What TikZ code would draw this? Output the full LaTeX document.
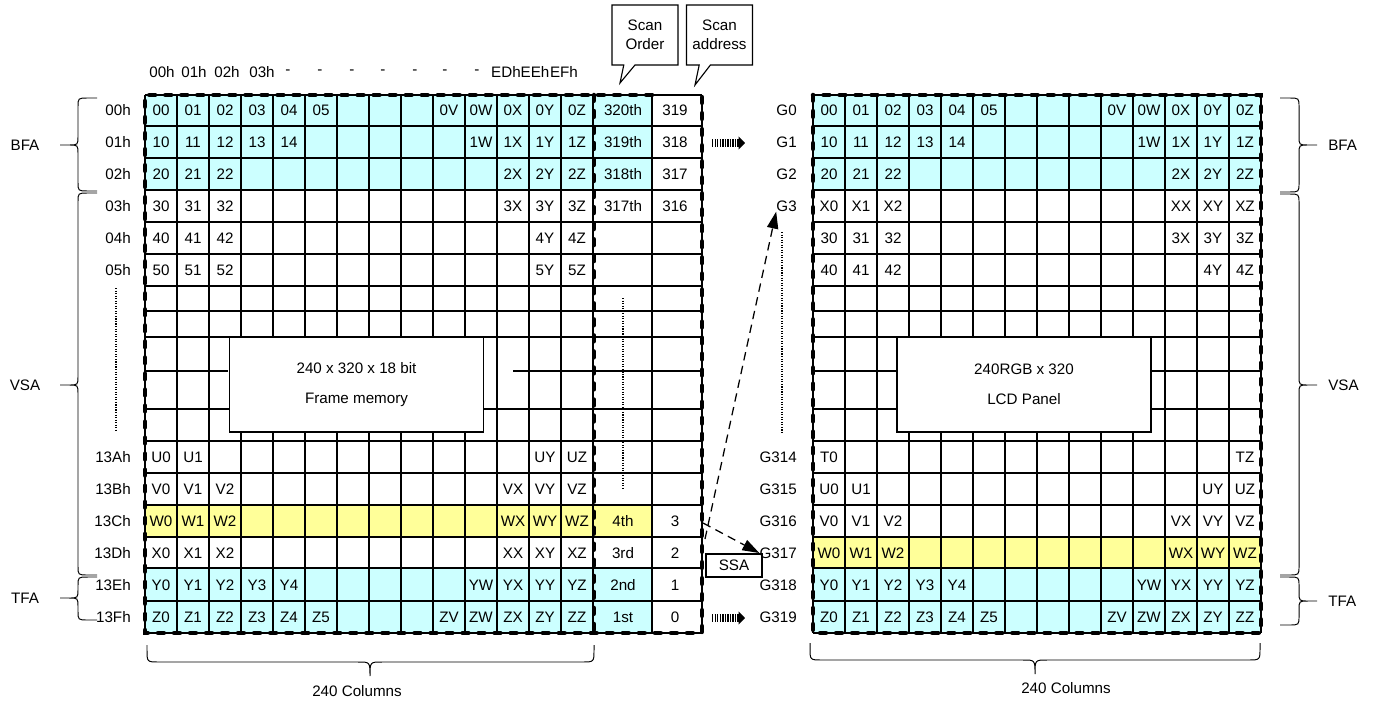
\documentclass[tikz,border=0pt]{standalone}
\usepackage{fontspec}
\setmainfont{Liberation Sans}
\usepackage{xcolor}
\definecolor{bfacyan}{RGB}{204,255,255}
\definecolor{selyellow}{RGB}{255,255,153}
\usepackage{tikz}
\usetikzlibrary{arrows.meta, shapes.callouts, positioning}

% side brace: end x, direction (-1 left, 1 right), top y, tip y, bottom y
\newcommand{\sidebrace}[5]{%
  \draw[brc] (#1,#3) -- ({#1+9*(#2)},#3) .. controls ({#1+19*(#2)},#3) .. ({#1+19*(#2)},#3+9)
    -- ({#1+19*(#2)},#4-9) .. controls ({#1+19*(#2)},#4) .. ({#1+28*(#2)},#4) -- ({#1+37*(#2)},#4)
    -- ({#1+28*(#2)},#4) .. controls ({#1+19*(#2)},#4) .. ({#1+19*(#2)},#4+9)
    -- ({#1+19*(#2)},#5-9) .. controls ({#1+19*(#2)},#5) .. ({#1+9*(#2)},#5) -- (#1,#5);}
% bottom brace: left x, tip x, right x, top y
\newcommand{\botbrace}[4]{%
  \draw[brc] (#1,#4) -- (#1,#4+5) .. controls (#1,#4+17) .. (#1+12,#4+17) -- (#2-12,#4+17)
    .. controls (#2,#4+17) .. (#2,#4+31) .. controls (#2,#4+17) .. (#2+12,#4+17)
    -- (#3-12,#4+17) .. controls (#3,#4+17) .. (#3,#4+5) -- (#3,#4);}

\begin{document}
\begin{tikzpicture}[x=0.025cm, y=-0.025cm,
  every node/.style={font=\fontsize{10.8}{12.5}\selectfont},
  cell/.style={inner sep=0pt},
  rowlab/.style={anchor=east, inner sep=0pt},
  gline/.style={line width=1.1pt},
  frame/.style={line width=3.2pt, line cap=round, dash pattern=on 4.1pt off 7.3pt},
  panel/.style={rectangle, draw, line width=1.1pt, fill=white, minimum width=6.35cm, minimum height=2.375cm, align=center},
  callbox/.style={rectangle callout, draw, line width=0.8pt, fill=white, align=center, minimum width=1.65cm, minimum height=1.5cm, callout pointer width=0.28cm},
  ssabox/.style={rectangle, draw, line width=0.8pt, minimum width=1.4cm, minimum height=0.575cm, inner sep=0pt},
  stripe/.style={line width=6pt, dash pattern=on 1pt off 0.8pt, -{Triangle[length=4.5pt,width=9pt]}},
  dasharrow/.style={line width=0.9pt, dash pattern=on 6pt off 4pt, -{Triangle[length=12pt,width=8pt]}},
  dotline/.style={line width=0.8pt, dash pattern=on 0.8pt off 1pt},
  brc/.style={line width=0.7pt}
]
\useasboundingbox (0,0) rectangle (1373,702);

% Fills
\fill[bfacyan] (145,95) rectangle (652,190);
\fill[selyellow] (145,505) rectangle (652,537);
\fill[bfacyan] (145,568) rectangle (652,633);
\fill[bfacyan] (813,95) rectangle (1261,190);
\fill[selyellow] (813,537) rectangle (1261,568);
\fill[bfacyan] (813,568) rectangle (1261,633);

% Grid lines, frame memory
\foreach \yy in {95,126,158,190,222,254,286,311,337,409,441,473,505,537,568,601,633}
  \draw[gline] (145,\yy) -- (702,\yy);
\draw[gline] (145,371) -- (228,371) (513,371) -- (702,371);
\foreach \c in {0,...,14}
  \draw[gline] (145+32*\c,95) -- (145+32*\c,633);
\draw[gline] (652,95) -- (652,633);
\draw[gline] (702,95) -- (702,633);

% Grid lines, LCD panel
\foreach \yy in {95,126,158,190,222,254,286,311,337,371,409,441,473,505,537,568,601,633}
  \draw[gline] (813,\yy) -- (1261,\yy);
\foreach \c in {0,...,14}
  \draw[gline] (813+32*\c,95) -- (813+32*\c,633);

% Boxes
\node[panel] (fmem) at (356.5,384.5) {240 x 320 x 18 bit\\[9pt]Frame memory};
\node[panel] (lcd) at (1024,384.5) {240RGB x 320\\[9pt]LCD Panel};

% Frames
\draw[frame] (652,95) -- (145,95) -- (145,633) -- (702,633) -- (702,95);
\draw[frame] (594,95) -- (594,633);
\draw[frame] (813,95) rectangle (1261,633);

% Cells, frame memory
\foreach \yy/\row [count=\r] in {
  110/{00,01,02,03,04,05,,,,0V,0W,0X,0Y,0Z},
  142/{10,11,12,13,14,,,,,,1W,1X,1Y,1Z},
  174/{20,21,22,,,,,,,,,2X,2Y,2Z},
  206/{30,31,32,,,,,,,,,3X,3Y,3Z},
  238/{40,41,42,,,,,,,,,,4Y,4Z},
  270/{50,51,52,,,,,,,,,,5Y,5Z},
  457/{U0,U1,,,,,,,,,,,UY,UZ},
  489/{V0,V1,V2,,,,,,,,,VX,VY,VZ},
  521/{W0,W1,W2,,,,,,,,,WX,WY,WZ},
  553/{X0,X1,X2,,,,,,,,,XX,XY,XZ},
  585/{Y0,Y1,Y2,Y3,Y4,,,,,,YW,YX,YY,YZ},
  617/{Z0,Z1,Z2,Z3,Z4,Z5,,,,ZV,ZW,ZX,ZY,ZZ}}{
  \foreach \t [count=\c] in \row {
    \ifx\t\empty\else
      \node[cell] (m-\r-\c) at (129+32*\c,\yy) {\t};
    \fi
  }
}

% Cells, LCD panel
\foreach \yy/\row [count=\r] in {
  110/{00,01,02,03,04,05,,,,0V,0W,0X,0Y,0Z},
  142/{10,11,12,13,14,,,,,,1W,1X,1Y,1Z},
  174/{20,21,22,,,,,,,,,2X,2Y,2Z},
  206/{X0,X1,X2,,,,,,,,,XX,XY,XZ},
  238/{30,31,32,,,,,,,,,3X,3Y,3Z},
  270/{40,41,42,,,,,,,,,,4Y,4Z},
  457/{T0,,,,,,,,,,,,,TZ},
  489/{U0,U1,,,,,,,,,,,UY,UZ},
  521/{V0,V1,V2,,,,,,,,,VX,VY,VZ},
  553/{W0,W1,W2,,,,,,,,,WX,WY,WZ},
  585/{Y0,Y1,Y2,Y3,Y4,,,,,,YW,YX,YY,YZ},
  617/{Z0,Z1,Z2,Z3,Z4,Z5,,,,ZV,ZW,ZX,ZY,ZZ}}{
  \foreach \t [count=\c] in \row {
    \ifx\t\empty\else
      \node[cell] (p-\r-\c) at (797+32*\c,\yy) {\t};
    \fi
  }
}

% Scan order / scan address
\foreach \yy/\ord/\adr [count=\r] in {110/320th/319, 142/319th/318, 174/318th/317, 206/317th/316,
    521/4th/3, 553/3rd/2, 585/2nd/1, 617/1st/0}{
  \node[cell] (ord-\r) at (623,\yy) {\ord};
  \node[cell] (adr-\r) at (675,\yy) {\adr};
}

% Row and column labels
\foreach \yy/\lab in {110/00h, 142/01h, 174/02h, 206/03h, 238/04h, 270/05h,
    457/13Ah, 489/13Bh, 521/13Ch, 553/13Dh, 585/13Eh, 617/13Fh}
  \node[rowlab] (h-\lab) at (131,\yy) {\lab};
\foreach \yy/\lab in {110/G0, 142/G1, 174/G2, 206/G3,
    457/G314, 489/G315, 521/G316, 553/G317, 585/G318, 617/G319}
  \node[rowlab] (g-\lab) at (797,\yy) {\lab};
\foreach \xx/\lab [count=\i] in {162/00h, 194/01h, 227/02h, 262/03h, 288/-, 320/-, 352/-,
    383/-, 415/-, 445/-, 477/-, 506/EDh, 535/EEh, 564/EFh}
  \node[cell] (col-\i) at (\xx,72) {\lab};

% Callouts
\node[callbox, callout absolute pointer={(620,83)}] (scanord) at (645,35) {Scan\\[1pt]Order};
\node[callbox, callout absolute pointer={(695,85)}] (scanadr) at (719.5,35) {Scan\\[1pt]address};

% Dotted continuation lines
\draw[dotline] (116,288) -- (116,432);
\draw[dotline] (623,298) -- (623,490);
\draw[dotline] (782,232) -- (782,432);

% Transfer arrows
\coordinate (s1a) at (712,143);
\coordinate (s1b) at (745,143);
\coordinate (s2a) at (712,618);
\coordinate (s2b) at (745,618);
\draw[stripe] (s1a) -- (s1b);
\draw[stripe] (s2a) -- (s2b);

\coordinate (wrow) at (703,523);
\coordinate (xrow) at (705,539);
\draw[dasharrow] (xrow) -- (g-G3.south west);
\draw[dasharrow] (wrow) -- (g-G317.west);
\node[ssabox] (ssa) at (734,565.5) {SSA};

% Braces
\sidebrace{97}{-1}{98}{145}{191}
\sidebrace{97}{-1}{193}{385}{575}
\sidebrace{97}{-1}{577}{598}{620}
\sidebrace{1280}{1}{98}{145}{192}
\sidebrace{1280}{1}{194}{385}{575}
\sidebrace{1280}{1}{577}{601}{625}
\node (bfa-l) at (25,145) {BFA};
\node (vsa-l) at (25,385) {VSA};
\node (tfa-l) at (25,598) {TFA};
\node[anchor=west, inner sep=0pt] (bfa-r) at (1328,145) {BFA};
\node[anchor=west, inner sep=0pt] (vsa-r) at (1328,385) {VSA};
\node[anchor=west, inner sep=0pt] (tfa-r) at (1328,601) {TFA};

\botbrace{147}{370}{594}{645}
\botbrace{810}{1035}{1260}{643}
\node (cols-l) at (357,691) {240 Columns};
\node (cols-r) at (1066,688) {240 Columns};

\end{tikzpicture}
\end{document}
